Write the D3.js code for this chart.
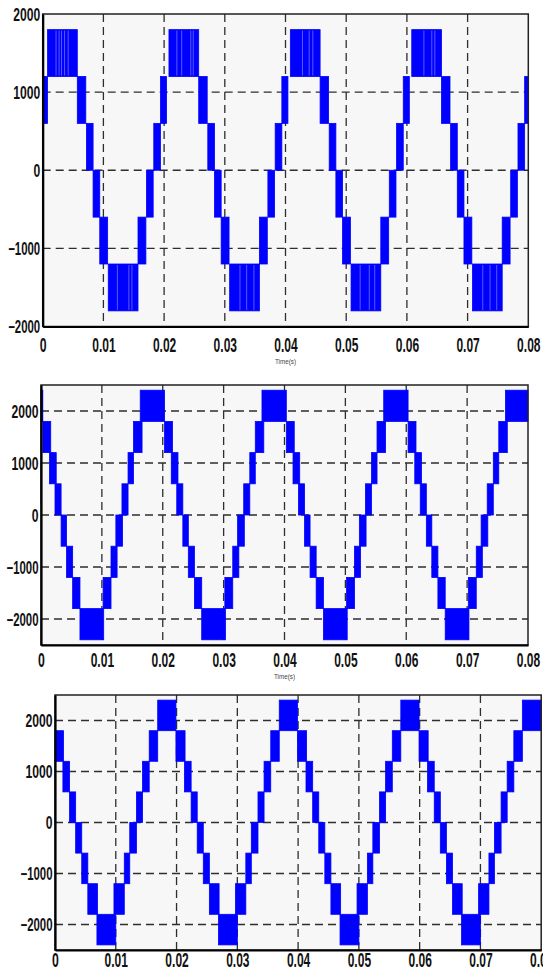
<!DOCTYPE html>
<html>
<head>
<meta charset="utf-8">
<script src="https://cdn.jsdelivr.net/npm/d3@7/dist/d3.min.js"></script>
<style>
  body { margin: 0; background: #fff; }
  svg { display: block; }
</style>
</head>
<body>
<div id="chart"></div>
<script>
// time axis (s)
const timeTicks = [0, 0.01, 0.02, 0.03, 0.04, 0.05, 0.06, 0.07, 0.08]
const timeLabels = ['0', '0.01', '0.02', '0.03', '0.04', '0.05', '0.06', '0.07', '0.08']
const voltTicks = [-2000, -1000, 0, 1000, 2000]

// switching bands: [t start, t end, low level, high level]
const wave1 = [
  [0, 0.0008, 600, 1200], [0.0008, 0.0057, 1200, 1800], [0.0057, 0.0071, 600, 1200], [0.0072, 0.0083, 0, 600],
  [0.0083, 0.0094, -600, 0], [0.0094, 0.0107, -1200, -600], [0.0108, 0.0157, -1800, -1200], [0.0157, 0.0170, -1200, -600],
  [0.0171, 0.0182, -600, 0], [0.0183, 0.0194, 0, 600], [0.0194, 0.0204, 600, 1200],
  [0.0208, 0.0257, 1200, 1800], [0.0257, 0.0271, 600, 1200], [0.0272, 0.0283, 0, 600], [0.0283, 0.0294, -600, 0],
  [0.0294, 0.0307, -1200, -600], [0.0308, 0.0357, -1800, -1200], [0.0357, 0.0370, -1200, -600], [0.0371, 0.0382, -600, 0],
  [0.0383, 0.0394, 0, 600], [0.0394, 0.0404, 600, 1200],
  [0.0408, 0.0457, 1200, 1800], [0.0457, 0.0471, 600, 1200], [0.0472, 0.0483, 0, 600], [0.0483, 0.0494, -600, 0],
  [0.0494, 0.0507, -1200, -600], [0.0508, 0.0557, -1800, -1200], [0.0557, 0.0570, -1200, -600], [0.0571, 0.0582, -600, 0],
  [0.0583, 0.0594, 0, 600], [0.0594, 0.0604, 600, 1200],
  [0.0608, 0.0657, 1200, 1800], [0.0657, 0.0671, 600, 1200], [0.0672, 0.0683, 0, 600], [0.0683, 0.0694, -600, 0],
  [0.0694, 0.0707, -1200, -600], [0.0708, 0.0757, -1800, -1200], [0.0757, 0.0770, -1200, -600], [0.0771, 0.0782, -600, 0],
  [0.0783, 0.0794, 0, 600], [0.0794, 0.0800, 600, 1200]
]
// light gaps inside the dense switching blocks of the first trace: [t, low level, high level]
const gaps1 = [
  [0.0022, 1200, 1800], [0.0027, 1200, 1800], [0.0031, 1200, 1800], [0.0036, 1200, 1800], [0.0042, 1200, 1800],
  [0.0123, -1800, -1200], [0.0142, -1800, -1200], [0.0147, -1800, -1200],
  [0.0221, 1200, 1800], [0.0229, 1200, 1800], [0.0244, 1200, 1800], [0.0248, 1200, 1800],
  [0.0325, -1800, -1200], [0.0336, -1800, -1200], [0.0348, -1800, -1200],
  [0.0428, 1200, 1800], [0.0439, 1200, 1800], [0.0445, 1200, 1800],
  [0.0523, -1800, -1200], [0.0538, -1800, -1200], [0.0547, -1800, -1200],
  [0.0628, 1200, 1800], [0.0641, 1200, 1800], [0.0646, 1200, 1800],
  [0.0725, -1800, -1200], [0.0737, -1800, -1200], [0.0748, -1800, -1200]
]

const wave2 = [
  [0, 0.0001, 200, 2400], [0, 0.0003, 1800, 2400],
  [0.0003, 0.0016, 1200, 1800], [0.0014, 0.0025, 600, 1200], [0.0023, 0.0033, 0, 600], [0.0033, 0.0042, -600, 0],
  [0.0042, 0.0052, -1200, -600], [0.0052, 0.0064, -1800, -1200], [0.0064, 0.0103, -2400, -1800], [0.0102, 0.0115, -1800, -1200],
  [0.0115, 0.0125, -1200, -600], [0.0123, 0.0134, -600, 0], [0.0133, 0.0143, 0, 600], [0.0143, 0.0152, 600, 1200],
  [0.0152, 0.0166, 1200, 1800], [0.0163, 0.0203, 1800, 2400],
  [0.0203, 0.0216, 1200, 1800], [0.0214, 0.0225, 600, 1200], [0.0223, 0.0233, 0, 600], [0.0233, 0.0242, -600, 0],
  [0.0242, 0.0252, -1200, -600], [0.0252, 0.0264, -1800, -1200], [0.0264, 0.0303, -2400, -1800], [0.0302, 0.0315, -1800, -1200],
  [0.0315, 0.0325, -1200, -600], [0.0323, 0.0334, -600, 0], [0.0333, 0.0343, 0, 600], [0.0343, 0.0352, 600, 1200],
  [0.0352, 0.0366, 1200, 1800], [0.0363, 0.0403, 1800, 2400],
  [0.0403, 0.0416, 1200, 1800], [0.0414, 0.0425, 600, 1200], [0.0423, 0.0433, 0, 600], [0.0433, 0.0442, -600, 0],
  [0.0442, 0.0452, -1200, -600], [0.0452, 0.0464, -1800, -1200], [0.0464, 0.0503, -2400, -1800], [0.0502, 0.0515, -1800, -1200],
  [0.0515, 0.0525, -1200, -600], [0.0523, 0.0534, -600, 0], [0.0533, 0.0543, 0, 600], [0.0543, 0.0552, 600, 1200],
  [0.0552, 0.0566, 1200, 1800], [0.0563, 0.0603, 1800, 2400],
  [0.0603, 0.0616, 1200, 1800], [0.0614, 0.0625, 600, 1200], [0.0623, 0.0633, 0, 600], [0.0633, 0.0642, -600, 0],
  [0.0642, 0.0652, -1200, -600], [0.0652, 0.0664, -1800, -1200], [0.0664, 0.0703, -2400, -1800], [0.0702, 0.0715, -1800, -1200],
  [0.0715, 0.0725, -1200, -600], [0.0723, 0.0734, -600, 0], [0.0733, 0.0743, 0, 600], [0.0743, 0.0752, 600, 1200],
  [0.0752, 0.0766, 1200, 1800], [0.0763, 0.0800, 1800, 2400]
]

const wave3 = [
  [0, 0.0001, 0, 1200],
  [0, 0.0014, 1200, 1800], [0.0013, 0.0024, 600, 1200], [0.0024, 0.0034, 0, 600], [0.0034, 0.0044, -600, 0],
  [0.0044, 0.0054, -1200, -600], [0.0054, 0.0070, -1800, -1200], [0.0069, 0.0100, -2400, -1800], [0.0097, 0.0114, -1800, -1200],
  [0.0114, 0.0123, -1200, -600], [0.0123, 0.0134, -600, 0], [0.0134, 0.0144, 0, 600], [0.0144, 0.0155, 600, 1200],
  [0.0155, 0.0169, 1200, 1800], [0.0169, 0.0199, 1800, 2400],
  [0.0199, 0.0214, 1200, 1800], [0.0213, 0.0224, 600, 1200], [0.0224, 0.0234, 0, 600], [0.0234, 0.0244, -600, 0],
  [0.0244, 0.0254, -1200, -600], [0.0254, 0.0270, -1800, -1200], [0.0269, 0.0300, -2400, -1800], [0.0297, 0.0314, -1800, -1200],
  [0.0314, 0.0323, -1200, -600], [0.0323, 0.0334, -600, 0], [0.0334, 0.0344, 0, 600], [0.0344, 0.0355, 600, 1200],
  [0.0355, 0.0369, 1200, 1800], [0.0369, 0.0399, 1800, 2400],
  [0.0399, 0.0414, 1200, 1800], [0.0413, 0.0424, 600, 1200], [0.0424, 0.0434, 0, 600], [0.0434, 0.0444, -600, 0],
  [0.0444, 0.0454, -1200, -600], [0.0454, 0.0470, -1800, -1200], [0.0469, 0.0500, -2400, -1800], [0.0497, 0.0514, -1800, -1200],
  [0.0514, 0.0523, -1200, -600], [0.0523, 0.0534, -600, 0], [0.0534, 0.0544, 0, 600], [0.0544, 0.0555, 600, 1200],
  [0.0555, 0.0569, 1200, 1800], [0.0569, 0.0599, 1800, 2400],
  [0.0599, 0.0614, 1200, 1800], [0.0613, 0.0624, 600, 1200], [0.0624, 0.0634, 0, 600], [0.0634, 0.0644, -600, 0],
  [0.0644, 0.0654, -1200, -600], [0.0654, 0.0670, -1800, -1200], [0.0669, 0.0700, -2400, -1800], [0.0697, 0.0714, -1800, -1200],
  [0.0714, 0.0723, -1200, -600], [0.0723, 0.0734, -600, 0], [0.0734, 0.0744, 0, 600], [0.0744, 0.0755, 600, 1200],
  [0.0755, 0.0769, 1200, 1800], [0.0769, 0.0800, 1800, 2400]
]

const panels = [
  { wave: wave1, gaps: gaps1, left: 42.7, right: 528.3, top: 14, bottom: 326.5, yMax: 2000, labelGap: 25, timeLabel: 364 },
  { wave: wave2, gaps: [], left: 41, right: 528, top: 385, bottom: 645, yMax: 2500, labelGap: 21.5, timeLabel: 679 },
  { wave: wave3, gaps: [], left: 55, right: 541.2, top: 695, bottom: 950, yMax: 2500, labelGap: 16.5, timeLabel: null }
]

const svg = d3
  .select('#chart')
  .append('svg')
  .attr('width', 543)
  .attr('height', 976)

// condensed bold numbers, like the original figure
function labelLength(s, digit, dot, minus) {
  let w = 0
  for (const c of s) w += c === '.' ? dot : c === '-' ? minus : digit
  return w
}

panels.forEach(p => {
  const x = d3.scaleLinear().domain([0, 0.08]).range([p.left, p.right])
  const y = d3.scaleLinear().domain([-p.yMax, p.yMax]).range([p.bottom, p.top])

  const g = svg.append('g')

  g.append('rect')
    .attr('x', p.left)
    .attr('y', p.top)
    .attr('width', p.right - p.left)
    .attr('height', p.bottom - p.top)
    .attr('fill', '#f7f7f7')

  // dashed grid
  g.selectAll('.vgrid')
    .data(timeTicks.slice(1, -1))
    .enter()
    .append('line')
    .attr('x1', d => x(d))
    .attr('x2', d => x(d))
    .attr('y1', p.top)
    .attr('y2', p.bottom)
    .attr('stroke', '#2e2e2e')
    .attr('stroke-width', 1.3)
    .attr('stroke-dasharray', '8,5')

  g.selectAll('.hgrid')
    .data(voltTicks.filter(d => Math.abs(d) < p.yMax))
    .enter()
    .append('line')
    .attr('x1', p.left)
    .attr('x2', p.right)
    .attr('y1', d => y(d))
    .attr('y2', d => y(d))
    .attr('stroke', '#2e2e2e')
    .attr('stroke-width', 1.3)
    .attr('stroke-dasharray', '8,5')

  // the waveform bands
  g.selectAll('.band')
    .data(p.wave)
    .enter()
    .append('rect')
    .attr('x', d => x(d[0]))
    .attr('y', d => y(d[3]))
    .attr('width', d => Math.max(0.6, x(d[1]) - x(d[0])))
    .attr('height', d => y(d[2]) - y(d[3]))
    .attr('fill', '#0000ff')
    .attr('stroke', '#0000ff')
    .attr('stroke-width', 0.8)

  g.selectAll('.gap')
    .data(p.gaps)
    .enter()
    .append('line')
    .attr('x1', d => x(d[0]))
    .attr('x2', d => x(d[0]))
    .attr('y1', d => y(d[2]) + 1)
    .attr('y2', d => y(d[1]) - 1)
    .attr('stroke', '#8080ff')
    .attr('stroke-width', 0.7)

  // frame
  g.append('rect')
    .attr('x', p.left)
    .attr('y', p.top)
    .attr('width', p.right - p.left)
    .attr('height', p.bottom - p.top)
    .attr('fill', 'none')
    .attr('stroke', '#222')
    .attr('stroke-width', 1.5)

  const yAxis = d3.axisLeft(y).tickValues(voltTicks).tickSize(0).tickPadding(2.5)
    .tickFormat(d3.format('d'))
  const yg = g.append('g')
    .attr('transform', 'translate(' + p.left + ',0)')
    .call(yAxis)
  yg.select('.domain').attr('stroke', '#000').attr('stroke-width', 2.2)
  yg.selectAll('text')
    .attr('font-family', 'Liberation Sans, Arial, sans-serif')
    .attr('font-weight', 'bold')
    .attr('font-size', 17.5)
    .attr('fill', '#111')
    .attr('dy', '0.36em')
    .attr('lengthAdjust', 'spacingAndGlyphs')
    .attr('textLength', d => labelLength(String(d), 6.75, 3, 5))

  const xAxis = d3.axisBottom(x).tickValues(timeTicks).tickSize(0).tickPadding(0)
    .tickFormat((d, i) => timeLabels[i])
  const xg = g.append('g')
    .attr('transform', 'translate(0,' + p.bottom + ')')
    .call(xAxis)
  xg.select('.domain').attr('stroke', '#000').attr('stroke-width', 2.2)
  xg.selectAll('text')
    .attr('font-family', 'Liberation Sans, Arial, sans-serif')
    .attr('font-weight', 'bold')
    .attr('font-size', 20)
    .attr('fill', '#111')
    .attr('y', p.labelGap)
    .attr('dy', 0)
    .attr('lengthAdjust', 'spacingAndGlyphs')
    .attr('textLength', (d, i) => labelLength(timeLabels[i], 6.8, 3, 5))

  if (p.timeLabel) {
    g.append('text')
      .attr('x', x(0.04))
      .attr('y', p.timeLabel)
      .attr('text-anchor', 'middle')
      .attr('font-family', 'Liberation Sans, Arial, sans-serif')
      .attr('font-size', 8)
      .attr('fill', '#444')
      .attr('lengthAdjust', 'spacingAndGlyphs')
      .attr('textLength', 21)
      .text('Time(s)')
  }
})
</script>
</body>
</html>
